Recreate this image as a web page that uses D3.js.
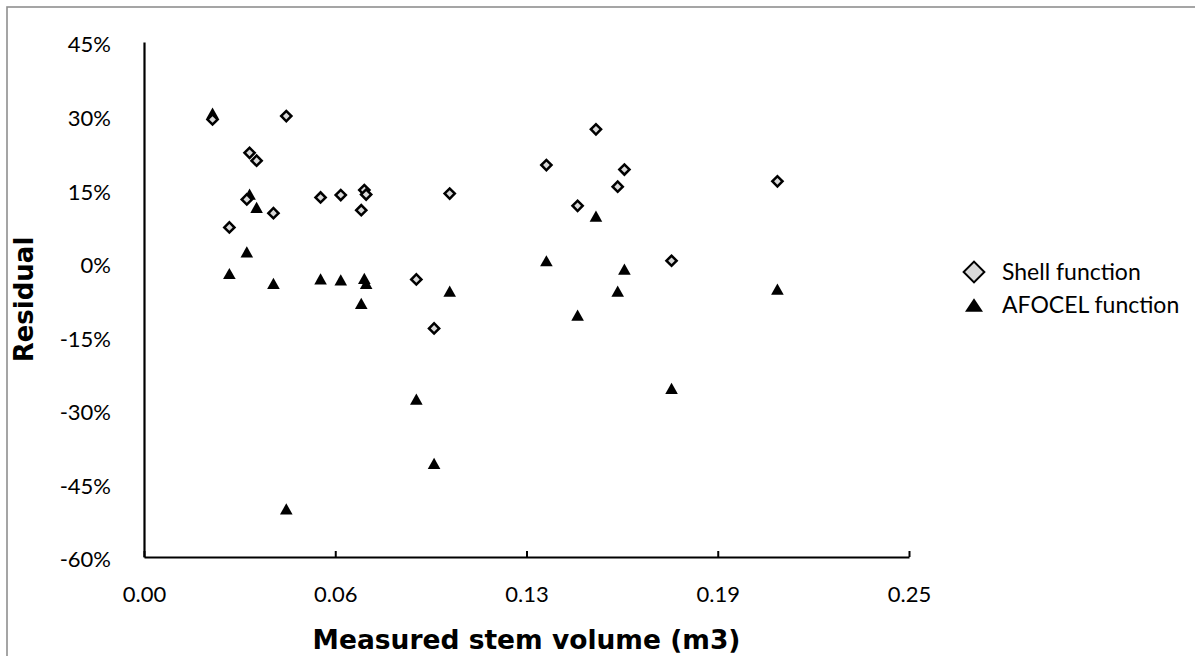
<!DOCTYPE html>
<html>
<head>
<meta charset="utf-8">
<script src="https://cdn.jsdelivr.net/npm/d3@7"></script>
<style>
  html, body { margin: 0; padding: 0; background: #ffffff; }
  svg { display: block; }
</style>
</head>
<body>
<svg id="chart" width="1195" height="656"></svg>
<script>
// ---- Data ----
const volume = [0.0224, 0.0279, 0.0336, 0.0345, 0.0368, 0.0423, 0.0465, 0.0577, 0.0643, 0.0710, 0.0720,
                0.0726, 0.0890, 0.0948, 0.0999, 0.1315, 0.1417, 0.1477, 0.1548, 0.1570, 0.1724, 0.2070];
const shellResidual = [29.2, 7.2, 12.9, 22.4, 20.8, 10.1, 29.9, 13.3, 13.8, 10.7, 14.8,
                       13.9, -3.4, -13.4, 14.1, 19.9, 11.6, 27.2, 15.5, 19.0, 0.4, 16.6];
const afocelResidual = [30.5, -2.2, 2.2, 14.0, 11.3, -4.2, -50.2, -3.3, -3.5, -8.3, -3.2,
                        -4.2, -27.8, -40.9, -5.8, 0.4, -10.7, 9.5, -5.8, -1.3, -25.6, -5.4];
const seriesNames = ["Shell function", "AFOCEL function"];
const xTickValues = [0, 0.0625, 0.125, 0.1875, 0.25];
const xTickLabels = ["0.00", "0.06", "0.13", "0.19", "0.25"];
const yTickValues = [-60, -45, -30, -15, 0, 15, 30, 45];
const yTickLabels = ["-60%", "-45%", "-30%", "-15%", "0%", "15%", "30%", "45%"];
const xTitle = "Measured stem volume (m3)";
const yTitle = "Residual";

// ---- Layout ----
const svg = d3.select("#chart");
const plot = { left: 144, right: 909, top: 42, bottom: 557 };
const tickFont = "Lato, 'Open Sans', sans-serif";
const titleFont = "'DejaVu Sans', Verdana, sans-serif";

// frame
svg.append("rect")
  .attr("x", 7).attr("y", 7)
  .attr("width", 1300).attr("height", 800)
  .attr("fill", "none")
  .attr("stroke", "#8f8f8f")
  .attr("stroke-width", 1.6);

const x = d3.scaleLinear().domain([0, 0.25]).range([plot.left, plot.right]);
const y = d3.scaleLinear().domain([-60, 45]).range([plot.bottom, plot.top]);

// x axis
const xAxis = d3.axisBottom(x)
  .tickValues(xTickValues)
  .tickFormat((d, i) => xTickLabels[i])
  .tickSizeInner(-6)
  .tickSizeOuter(0);
const gx = svg.append("g")
  .attr("transform", `translate(0,${plot.bottom})`)
  .call(xAxis);
gx.select(".domain").attr("stroke", "#000").attr("stroke-width", 2.2);
gx.selectAll(".tick line").attr("stroke", "#000").attr("stroke-width", 2);
gx.selectAll(".tick text")
  .attr("y", 45).attr("dy", 0)
  .attr("fill", "#000")
  .style("font-family", tickFont)
  .style("font-size", "22px");

// y axis
const yAxis = d3.axisLeft(y)
  .tickValues(yTickValues)
  .tickFormat((d, i) => yTickLabels[i])
  .tickSize(0);
const gy = svg.append("g")
  .attr("transform", `translate(${plot.left},0)`)
  .call(yAxis);
gy.select(".domain").attr("stroke", "#000").attr("stroke-width", 2.2);
gy.selectAll(".tick text")
  .attr("x", -33).attr("dy", "0.45em")
  .attr("fill", "#000")
  .style("font-family", tickFont)
  .style("font-size", "22px");

// marker shapes
const diamond = d3.symbol().type(d3.symbolSquare);
function trianglePath(w, h) {
  return `M0,${-h / 2}L${w / 2},${h / 2}L${-w / 2},${h / 2}Z`;
}

const pts = volume.map((v, i) => ({ v, shell: shellResidual[i], afocel: afocelResidual[i] }));

// AFOCEL triangles
svg.append("g").selectAll("path")
  .data(pts).join("path")
  .attr("d", trianglePath(12.6, 11.2))
  .attr("transform", d => `translate(${x(d.v)},${y(d.afocel)})`)
  .attr("fill", "#000");

// Shell diamonds
svg.append("g").selectAll("path")
  .data(pts).join("path")
  .attr("d", diamond.size(52)())
  .attr("transform", d => `translate(${x(d.v)},${y(d.shell)}) rotate(45)`)
  .attr("fill", "#d9d9d9")
  .attr("stroke", "#000")
  .attr("stroke-width", 2.5);

// axis titles
svg.append("text")
  .attr("x", (plot.left + plot.right) / 2)
  .attr("y", 649)
  .attr("text-anchor", "middle")
  .style("font-family", titleFont)
  .style("font-weight", "bold")
  .style("font-size", "26.5px")
  .text(xTitle);

svg.append("text")
  .attr("transform", "translate(32.5,299.5) rotate(-90)")
  .attr("text-anchor", "middle")
  .style("font-family", titleFont)
  .style("font-weight", "bold")
  .style("font-size", "26px")
  .text(yTitle);

// legend
const legend = svg.append("g");
const legendRows = legend.selectAll("g")
  .data(seriesNames).join("g")
  .attr("transform", (d, i) => `translate(974,${272 + i * 33})`);
legendRows.each(function (d, i) {
  const g = d3.select(this);
  if (i === 0) {
    g.append("path")
      .attr("d", diamond.size(215)())
      .attr("transform", "rotate(45)")
      .attr("fill", "#d9d9d9")
      .attr("stroke", "#000")
      .attr("stroke-width", 2);
  } else {
    g.append("path")
      .attr("d", trianglePath(18, 13.3))
      .attr("fill", "#000");
  }
  g.append("text")
    .attr("x", 28)
    .attr("y", 8.3)
    .style("font-family", tickFont)
    .style("font-size", "23px")
    .attr("fill", "#000")
    .text(d);
});
</script>
</body>
</html>
